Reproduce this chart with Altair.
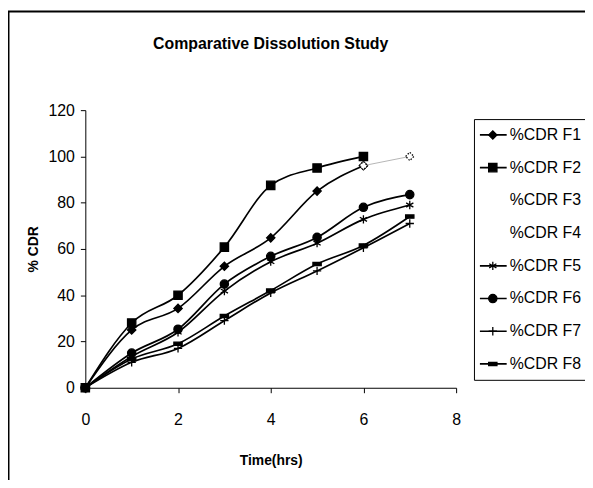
import altair as alt
import pandas as pd

# ---------------- data ----------------
time_hrs = [0, 1, 2, 3, 4, 5, 6, 7]
series_names = ["%CDR F1", "%CDR F2", "%CDR F3", "%CDR F4",
                "%CDR F5", "%CDR F6", "%CDR F7", "%CDR F8"]
f1 = [0, 25, 34.3, 52.5, 64.8, 85, 96, None]
f2 = [0, 28, 40, 60.8, 87.5, 95, 100, None]
f5 = [0, 13.5, 24, 41.8, 54.5, 62.5, 72.8, 79]
f6 = [0, 15, 25.3, 44.8, 56.8, 65, 78, 83.5]
f7 = [0, 11, 17, 29, 41, 50.5, 60.5, 71]
f8 = [0, 12.4, 19, 31, 42, 53.5, 61.5, 74]
# faint tail drawn after F1 (6 h -> 7 h)
tail_time = [6, 7]
tail_val = [96, 100]

values = {"%CDR F1": f1, "%CDR F2": f2, "%CDR F5": f5,
          "%CDR F6": f6, "%CDR F7": f7, "%CDR F8": f8}
rows = []
for name, vals in values.items():
    for t, v in zip(time_hrs, vals):
        if v is not None:
            rows.append({"time": t, "cdr": v, "series": name, "series2": name})
df = pd.DataFrame(rows)
tail = pd.DataFrame({"time": tail_time, "cdr": tail_val})

line_colors = ["black", "black", "white", "white", "black", "black", "black", "black"]
shapes = ["diamond", "square", "M0,0", "M0,0",
          "M0,-1L0,1M-0.87,-0.5L0.87,0.5M-0.87,0.5L0.87,-0.5",
          "circle",
          "M0,-1L0,1M-1,0L1,0",
          "M-1,-0.4L1,-0.4L1,0.4L-1,0.4Z"]

FONT = "Liberation Sans, Arial"

x = alt.X("time:Q", scale=alt.Scale(domain=[0, 8], nice=False),
          axis=alt.Axis(values=[0, 2, 4, 6, 8], title="Time(hrs)"))
y = alt.Y("cdr:Q", scale=alt.Scale(domain=[0, 120], nice=False),
          axis=alt.Axis(values=[0, 20, 40, 60, 80, 100, 120], title="% CDR"))

border = alt.Chart(pd.DataFrame({"a": [0]})).mark_rect(
    fillOpacity=0, stroke="black", strokeWidth=2
).encode(x=alt.value(-77.5), x2=alt.value(700), y=alt.value(-99.5), y2=alt.value(600))

lines = alt.Chart(df).mark_line(interpolate="monotone", strokeWidth=1.7).encode(
    x=x, y=y,
    stroke=alt.Stroke("series:N",
                      scale=alt.Scale(domain=series_names, range=line_colors),
                      legend=alt.Legend(title=None, orient="none", legendX=392, legendY=9,
                                        symbolType="stroke", symbolSize=729,
                                        symbolStrokeWidth=1.7, clipHeight=22,
                                        strokeColor="black", fillColor="white",
                                        padding=5, rowPadding=11, labelOffset=2,
                                        labelFontSize=16, labelFont=FONT,
                                        labelColor="black")),
    detail="series:N",
)

marker_legend = alt.Legend(title=None, orient="none", legendX=398, legendY=9,
                           symbolFillColor="black",
                           symbolStrokeWidth=1.3, symbolSize=70,
                           symbolOpacity=1, clipHeight=22,
                           padding=5, rowPadding=11, labelExpr="''",
                           labelFontSize=16, labelFont=FONT)

points = alt.Chart(df).mark_point(filled=False, fill="black",
                                   strokeWidth=1.3, size=70, opacity=1,
                                   fillOpacity=1).encode(
    x=x, y=y,
    shape=alt.Shape("series2:N",
                    scale=alt.Scale(domain=series_names, range=shapes),
                    legend=marker_legend),
    stroke=alt.Stroke("series2:N",
                      scale=alt.Scale(domain=series_names, range=line_colors),
                      legend=marker_legend),
)

tail_line = alt.Chart(tail).mark_line(interpolate="monotone", stroke="#b5b5b5",
                                      strokeWidth=1).encode(x=x, y=y)
tail_pts = alt.Chart(tail).mark_point(shape="diamond", size=70, fill="white",
                                      stroke="black", strokeWidth=1.3,
                                      strokeDash=[1.5, 1.5], opacity=1).encode(x=x, y=y)

chart = alt.layer(border, lines, tail_line, points, tail_pts).properties(
    width=374, height=280,
    title=alt.TitleParams("Comparative Dissolution Study", fontSize=16, font=FONT,
                          fontWeight="bold", anchor="middle", offset=-42,
                          frame="group", color="black"),
    autosize=alt.AutoSizeParams(type="none"),
    padding={"left": 78, "top": 101, "right": 130, "bottom": 91},
).resolve_scale(stroke="independent").resolve_legend(
    stroke="independent", shape="independent"
).configure_view(
    stroke=None
).configure_axis(
    grid=False, domainColor="black", tickColor="black", tickSize=5,
    labelFont=FONT, labelFontSize=16, labelColor="black",
    titleFont=FONT, titleFontSize=14, titleFontWeight="bold", titleColor="black",
).configure_axisX(labelPadding=19, titlePadding=26, labelFlush=False
).configure_axisY(labelPadding=6, titlePadding=8)

chart.save("out.html", embed_options={"renderer": "svg", "actions": False})
